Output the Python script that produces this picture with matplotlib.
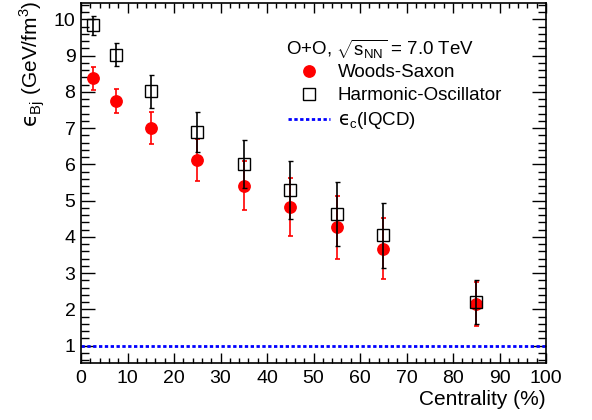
import matplotlib
matplotlib.use("Agg")
import matplotlib.pyplot as plt
from matplotlib.ticker import MultipleLocator
from matplotlib.lines import Line2D

plt.rcParams['font.family'] = ['Liberation Sans', 'DejaVu Sans']
plt.rcParams['mathtext.fontset'] = 'custom'
plt.rcParams['mathtext.rm'] = 'Liberation Sans'
plt.rcParams['mathtext.it'] = 'DejaVu Sans'
plt.rcParams['mathtext.sf'] = 'Liberation Sans'

# Data
centrality = [2.5, 7.5, 15, 25, 35, 45, 55, 65, 85]
ws_eps = [8.37, 7.75, 7.0, 6.12, 5.41, 4.82, 4.27, 3.67, 2.15]
ws_err = [0.31, 0.34, 0.45, 0.57, 0.67, 0.80, 0.87, 0.84, 0.60]
ho_eps = [9.84, 9.02, 8.01, 6.88, 6.01, 5.30, 4.64, 4.04, 2.21]
ho_err = [0.26, 0.32, 0.46, 0.55, 0.66, 0.80, 0.88, 0.90, 0.61]
eps_c = 1.0

fig = plt.figure(figsize=(5.92, 4.2), dpi=100)
ax = fig.add_axes([81/592, 1-363/420, (546-81)/592, (363-3)/420])

ax.errorbar(centrality, ws_eps, yerr=ws_err, fmt='o', color='red', ms=8.2,
            ecolor='red', elinewidth=1.2, capsize=1.8, capthick=1.2, zorder=3)
ax.errorbar(centrality, ho_eps, yerr=ho_err, fmt='s', color='black', ms=8.5,
            mfc='none', mec='black', mew=1.0, ecolor='black', elinewidth=1.2,
            capsize=1.8, capthick=1.2, zorder=4)
ax.axhline(eps_c, color='blue', lw=2.0, linestyle=(0, (1.2, 0.9)), zorder=2)

ax.set_xlim(0, 100)
ax.set_ylim(0.52, 10.45)
ax.xaxis.set_major_locator(MultipleLocator(10))
ax.xaxis.set_minor_locator(MultipleLocator(2))
ax.yaxis.set_major_locator(MultipleLocator(1))
ax.yaxis.set_minor_locator(MultipleLocator(0.2))
ax.tick_params(axis='both', which='both', direction='in', top=True, right=True,
               labelsize=14, width=1.0)
ax.tick_params(axis='x', which='major', length=7, pad=5)
ax.tick_params(axis='x', which='minor', length=3.5)
ax.tick_params(axis='y', which='major', length=10, pad=4)
ax.tick_params(axis='y', which='minor', length=5.5)
for s in ax.spines.values():
    s.set_linewidth(1.2)

ax.set_xlabel('Centrality (%)', fontsize=15, loc='right', labelpad=2)
ax.set_ylabel('$ϵ_{\\rm Bj}$ (GeV/fm$^{3}$)', fontsize=15, loc='top')
ax.yaxis.set_label_coords(-0.073, 1.008)

ax.text(0.441, 0.873, r'O+O, $\sqrt{\mathrm{s}_{\rm NN}}$ = 7.0 TeV', transform=ax.transAxes,
        fontsize=13.5, ha='left', va='center')

handles = [Line2D([], [], marker='o', color='red', ls='none', ms=8.2),
           Line2D([], [], marker='s', mfc='none', mec='black', ls='none', ms=8.5, mew=1.0),
           Line2D([], [], color='blue', lw=2.0, ls=(0, (1.2, 0.9)))]
leg = ax.legend(handles, ['Woods-Saxon', 'Harmonic-Oscillator', '$ϵ_{\\rm c}$(lQCD)'],
                loc='upper left', bbox_to_anchor=(0.445, 0.83), frameon=False,
                fontsize=13.5, handlelength=2.27, handletextpad=0.4, labelspacing=0.32,
                borderpad=0, borderaxespad=0)

fig.savefig('out.png', dpi=100)
